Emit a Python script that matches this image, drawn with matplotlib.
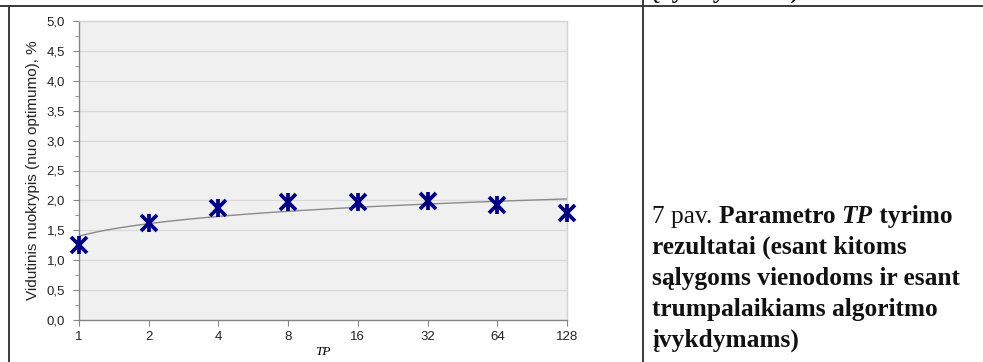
import numpy as np
import matplotlib
matplotlib.use("Agg")
import matplotlib.pyplot as plt
from matplotlib.lines import Line2D
from matplotlib.ticker import MultipleLocator, FuncFormatter

# TP values (categories) and mean deviation from optimum, %
tp_labels = ["1", "2", "4", "8", "16", "32", "64", "128"]
deviation = [1.26, 1.62, 1.87, 1.97, 1.97, 1.99, 1.93, 1.79]

y_label = "Vidutinis nuokrypis (nuo optimumo), %"
x_label = "TP"

fig = plt.figure(figsize=(9.83, 3.62), dpi=100)
fig.patch.set_facecolor("white")

W, H = 983.0, 362.0
ax = fig.add_axes([79 / W, 1 - 320 / H, (567 - 79) / W, (320 - 21) / H])
ax.set_facecolor("#f0f0f0")

x = np.arange(len(tp_labels))

# logarithmic trend over category index 1..n
idx = x + 1
a, b = np.polyfit(np.log(idx), deviation, 1)
xs = np.linspace(0, len(tp_labels) - 1, 200)
ax.plot(xs, a * np.log(xs + 1) + b, color="#8a8a8a", lw=1.0, zorder=3)

# star markers: an x with a vertical bar through it
ax.plot(x, deviation, ls="none", marker="x", ms=11, mew=2.7,
        color="#000080", zorder=4, clip_on=False)
ax.plot(x, deviation, ls="none", marker="|", ms=13, mew=2.7,
        color="#000080", zorder=4, clip_on=False)

ax.set_xlim(0, len(tp_labels) - 1)
ax.set_ylim(0, 5)
ax.set_xticks(x)
ax.set_xticklabels(tp_labels)
ax.yaxis.set_major_locator(MultipleLocator(0.5))
ax.yaxis.set_minor_locator(MultipleLocator(0.25))
ax.yaxis.set_major_formatter(FuncFormatter(lambda v, p: f"{v:.1f}".replace(".", ",")))

ax.grid(axis="y", which="major", color="#d9d9d9", lw=0.9, zorder=0)
ax.set_axisbelow(True)

for side in ("left", "bottom"):
    ax.spines[side].set_color("#868686")
    ax.spines[side].set_linewidth(1.0)
for side in ("top", "right"):
    ax.spines[side].set_color("#d4d4d4")
    ax.spines[side].set_linewidth(1.0)

ax.tick_params(axis="both", which="both", direction="out", color="#868686",
               labelsize=9.5, labelcolor="#222222")
ax.tick_params(axis="y", which="major", length=4, pad=6)
ax.tick_params(axis="y", which="minor", length=3)
ax.tick_params(axis="x", which="major", length=4, pad=4)
for lab in ax.get_xticklabels() + ax.get_yticklabels():
    lab.set_family("Liberation Sans")

ax.set_ylabel(y_label, fontsize=11, family="Liberation Sans", color="#222222",
              labelpad=5)
ax.set_xlabel(x_label, fontsize=9.5, family="Liberation Serif", style="italic",
              labelpad=2)

# table borders around the figure cell and caption cell
line_kw = dict(color="#3a3a3a", lw=1.4, transform=fig.transFigure)
fig.add_artist(Line2D([0, 1], [1 - 6 / H, 1 - 6 / H], **line_kw))
fig.add_artist(Line2D([8.5 / W, 8.5 / W], [0, 1 - 6 / H], **line_kw))
fig.add_artist(Line2D([643 / W, 643 / W], [0, 1], **line_kw))

# caption, mixed regular / bold / bold italic Times-like text
renderer = fig.canvas.get_renderer()
cap_size = 18.3
serif = "Liberation Serif"


def put_run(parts, x0, y_px):
    xp = x0
    for txt, weight, style in parts:
        t = fig.text(xp / W, 1 - y_px / H, txt, fontsize=cap_size, family=serif,
                     weight=weight, style=style, va="baseline", ha="left",
                     color="#111111")
        bb = t.get_window_extent(renderer=renderer)
        xp += bb.width


caption = [
    [("7 pav. ", "normal", "normal"), ("Parametro ", "bold", "normal"),
     ("TP", "bold", "italic"), (" tyrimo", "bold", "normal")],
    [("rezultatai (esant kitoms", "bold", "normal")],
    [("sąlygoms vienodoms ir esant", "bold", "normal")],
    [("trumpalaikiams algoritmo", "bold", "normal")],
    [("įvykdymams)", "bold", "normal")],
]
baselines = [223, 254, 285, 316, 347]
for parts, yb in zip(caption, baselines):
    put_run(parts, 652, yb)

# tail of the previous row's caption, mostly cut off at the top
put_run([("įvykdymams)", "bold", "normal")], 652, -2.5)

fig.savefig("out.png", dpi=100, facecolor="white")
